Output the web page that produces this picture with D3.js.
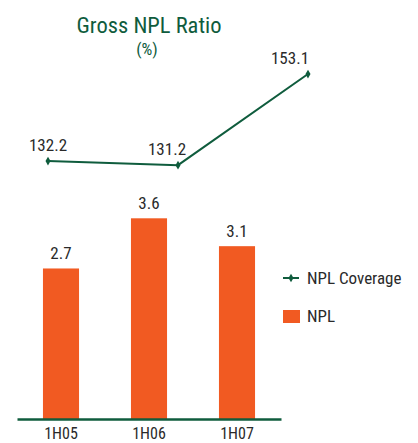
<!DOCTYPE html>
<html>
<head>
<meta charset="utf-8">
<script src="https://cdn.jsdelivr.net/npm/d3@7"></script>
<style>
  body { margin: 0; background: #fff; }
  svg text { font-family: "Liberation Sans Narrow", "Roboto Condensed", "DejaVu Sans Condensed", sans-serif; }
</style>
</head>
<body>
<svg id="chart" width="418" height="443"></svg>
<script>
// chart data
const periods = ["1H05", "1H06", "1H07"];
const nplRatio = [2.7, 3.6, 3.1];
const nplCoverage = [132.2, 131.2, 153.1];
const legendNames = ["NPL Coverage", "NPL"];

const green = "#0f5c3d";
const orange = "#f15a22";
const textColor = "#2a2a2a";

const svg = d3.select("#chart");

// title
svg.append("text")
    .attr("x", 149).attr("y", 33)
    .attr("text-anchor", "middle")
    .attr("fill", green)
    .style("font-size", "22.5px")
    .text("Gross NPL Ratio");
svg.append("text")
    .attr("x", 147).attr("y", 55)
    .attr("text-anchor", "middle")
    .attr("fill", green)
    .style("font-size", "17px")
    .text("(%)");

// scales for the bars
const xBar = d3.scaleBand().domain(periods).range([17, 281])
    .paddingInner(0.59).paddingOuter(0.295);
const yBar = d3.scaleLinear().domain([0, 4]).range([419, 196]);

// scales for the coverage line (its own, wider spacing)
const xLine = d3.scalePoint().domain(periods).range([48, 308]);
const yLine = d3.scaleLinear().domain([120, 160]).range([211.8, 45.3]);

const bars = periods.map((p, i) => ({ period: p, value: nplRatio[i] }));
const points = periods.map((p, i) => ({ period: p, value: nplCoverage[i] }));

svg.append("g").selectAll("rect")
    .data(bars)
    .enter().append("rect")
    .attr("x", d => xBar(d.period))
    .attr("y", d => yBar(d.value))
    .attr("width", xBar.bandwidth())
    .attr("height", d => yBar(0) - yBar(d.value))
    .attr("fill", orange);

svg.append("g").selectAll("text")
    .data(bars)
    .enter().append("text")
    .attr("x", d => xBar(d.period) + xBar.bandwidth() / 2)
    .attr("y", d => yBar(d.value) - 9)
    .attr("text-anchor", "middle")
    .attr("fill", textColor)
    .style("font-size", "17px")
    .text(d => d.value.toFixed(1));

// x axis
const axis = svg.append("g")
    .attr("transform", `translate(0, ${yBar(0)})`)
    .call(d3.axisBottom(xBar).tickSize(0).tickSizeOuter(0).tickPadding(9));
axis.select(".domain").attr("stroke", green).attr("stroke-width", 2.5);
axis.selectAll("text")
    .attr("fill", textColor)
    .style("font-size", "16px");
axis.attr("font-family", null).attr("font-size", null);

// coverage line
const line = d3.line()
    .x(d => xLine(d.period))
    .y(d => yLine(d.value));

svg.append("path")
    .datum(points)
    .attr("fill", "none")
    .attr("stroke", green)
    .attr("stroke-width", 2)
    .attr("d", line);

const diamond = d3.symbol().type(d3.symbolDiamond).size(22);
svg.append("g").selectAll("path")
    .data(points)
    .enter().append("path")
    .attr("transform", d => `translate(${xLine(d.period)}, ${yLine(d.value)})`)
    .attr("d", diamond)
    .attr("fill", green);

const labelShift = [0, -11, -18];
svg.append("g").selectAll("text")
    .data(points)
    .enter().append("text")
    .attr("x", (d, i) => xLine(d.period) + labelShift[i])
    .attr("y", d => yLine(d.value) - 10)
    .attr("text-anchor", "middle")
    .attr("fill", textColor)
    .style("font-size", "17px")
    .text(d => d.value.toFixed(1));

// legend
const legend = svg.append("g").attr("transform", "translate(283, 278)");
legend.append("line")
    .attr("x1", 0).attr("x2", 16).attr("y1", 0).attr("y2", 0)
    .attr("stroke", green).attr("stroke-width", 2);
legend.append("path")
    .attr("transform", "translate(8, 0)")
    .attr("d", diamond)
    .attr("fill", green);
legend.append("text")
    .attr("x", 24).attr("y", 0).attr("dy", "0.35em")
    .attr("fill", textColor)
    .style("font-size", "17px")
    .text(legendNames[0]);
legend.append("rect")
    .attr("x", 0).attr("y", 32).attr("width", 17).attr("height", 13)
    .attr("fill", orange);
legend.append("text")
    .attr("x", 24).attr("y", 38.5).attr("dy", "0.35em")
    .attr("fill", textColor)
    .style("font-size", "17px")
    .text(legendNames[1]);
</script>
</body>
</html>
